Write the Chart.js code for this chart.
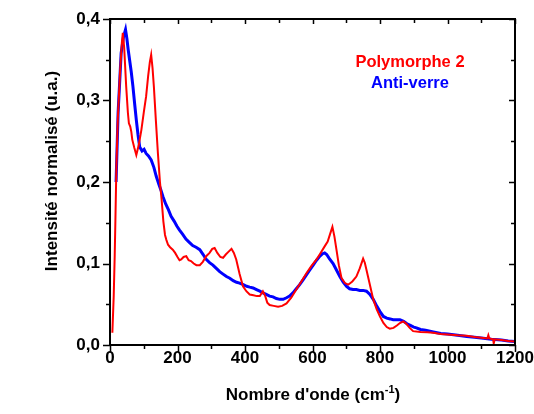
<!DOCTYPE html>
<html>
<head>
<meta charset="utf-8">
<script src="https://cdn.jsdelivr.net/npm/chart.js@4.4.0/dist/chart.umd.min.js"></script>
<style>
  html, body { margin: 0; padding: 0; background: #fff; }
  #wrap { width: 534px; height: 414px; }
</style>
</head>
<body>
<div id="wrap"><canvas id="spectre" width="534" height="414"></canvas></div>
<script>
// Spectres Raman basse fréquence : polymorphe 2 et anti-verre

const seriesNames = ["Polymorphe 2", "Anti-verre"];

const redX = [7, 11, 14, 16, 19, 23, 30, 35, 38, 42, 48, 53, 56, 60, 63, 66, 72, 78, 85, 93,
  100, 107, 113, 118, 122, 126, 130, 136, 142, 148, 153, 158, 163, 167, 172, 178, 186, 193, 200, 206,
  211, 218, 226, 233, 240, 248, 256, 266, 275, 285, 295, 303, 310, 318, 327, 335, 343, 350, 360, 367,
  374, 384, 394, 404, 414, 425, 435, 444, 453, 460, 466, 473, 485, 498, 510, 523, 537, 552, 567, 582,
  597, 612, 624, 636, 645, 652, 659, 665, 671, 678, 686, 696, 706, 718, 730, 740, 750, 755, 760, 770,
  780, 790, 800, 810, 820, 829, 840, 850, 859, 869, 878, 888, 898, 920, 940, 957, 980, 1000, 1030, 1057,
  1080, 1100, 1118, 1121, 1124, 1135, 1137, 1140, 1160, 1180, 1200];
const redY = [0.015, 0.06, 0.11, 0.153, 0.22, 0.276, 0.337, 0.37, 0.383, 0.365, 0.317, 0.285, 0.272, 0.268, 0.262, 0.252, 0.242, 0.233, 0.245, 0.264,
  0.285, 0.305, 0.33, 0.347, 0.356, 0.34, 0.317, 0.275, 0.235, 0.2, 0.178, 0.152, 0.135, 0.129, 0.123, 0.12, 0.117, 0.113, 0.108, 0.104,
  0.105, 0.108, 0.109, 0.104, 0.103, 0.1, 0.098, 0.098, 0.102, 0.109, 0.113, 0.118, 0.119, 0.113, 0.108, 0.107, 0.111, 0.114, 0.118, 0.113,
  0.105, 0.087, 0.072, 0.066, 0.062, 0.061, 0.06, 0.06, 0.066, 0.06, 0.052, 0.049, 0.048, 0.047, 0.048, 0.051, 0.058, 0.068, 0.078, 0.088,
  0.097, 0.105, 0.113, 0.121, 0.127, 0.136, 0.145, 0.133, 0.117, 0.098, 0.082, 0.076, 0.074, 0.078, 0.084, 0.094, 0.106, 0.101, 0.092, 0.074,
  0.056, 0.044, 0.035, 0.027, 0.022, 0.02, 0.021, 0.024, 0.027, 0.029, 0.026, 0.021, 0.017, 0.016, 0.0155, 0.015, 0.0135, 0.013, 0.012, 0.0114,
  0.0098, 0.009, 0.008, 0.012, 0.008, 0.007, 0.002, 0.007, 0.006, 0.005, 0.0044];

const blueX = [18, 24, 28, 33, 40, 46, 50, 54, 58, 63, 68, 73, 78, 83, 88, 95, 101, 107, 114, 122,
  130, 137, 145, 151, 157, 165, 173, 181, 190, 198, 206, 215, 225, 235, 245, 255, 266, 276, 285, 295,
  305, 315, 325, 335, 345, 355, 365, 375, 384, 395, 405, 414, 424, 434, 444, 453, 463, 473, 483, 493,
  503, 513, 523, 532, 542, 552, 562, 572, 582, 592, 602, 612, 622, 630, 636, 642, 650, 661, 671, 681,
  691, 701, 710, 720, 730, 740, 750, 760, 770, 780, 790, 800, 810, 820, 830, 839, 850, 859, 870, 880,
  890, 900, 908, 920, 935, 958, 980, 1000, 1030, 1057, 1080, 1100, 1130, 1160, 1180, 1200];
const blueY = [0.2, 0.285, 0.317, 0.358, 0.378, 0.387, 0.376, 0.362, 0.35, 0.335, 0.317, 0.296, 0.276, 0.258, 0.243, 0.238, 0.24, 0.235, 0.232, 0.227,
  0.218, 0.207, 0.197, 0.19, 0.182, 0.173, 0.166, 0.158, 0.152, 0.146, 0.141, 0.136, 0.13, 0.126, 0.122, 0.12, 0.117, 0.111, 0.105, 0.101,
  0.098, 0.094, 0.09, 0.087, 0.084, 0.082, 0.079, 0.077, 0.076, 0.074, 0.072, 0.071, 0.07, 0.068, 0.066, 0.064, 0.062, 0.06, 0.059, 0.057,
  0.056, 0.056, 0.058, 0.06, 0.064, 0.069, 0.074, 0.08, 0.086, 0.092, 0.098, 0.104, 0.109, 0.112, 0.113, 0.111, 0.106, 0.1, 0.092, 0.084,
  0.077, 0.072, 0.069, 0.068, 0.068, 0.067, 0.067, 0.066, 0.062, 0.056, 0.048, 0.041, 0.035, 0.033, 0.032, 0.031, 0.031, 0.031, 0.029, 0.026,
  0.024, 0.022, 0.021, 0.019, 0.018, 0.016, 0.014, 0.0135, 0.012, 0.0105, 0.0095, 0.0085, 0.007, 0.006, 0.005, 0.0044];

const xTickLabels = ["0", "200", "400", "600", "800", "1000", "1200"];
const yTickLabels = ["0,0", "0,1", "0,2", "0,3", "0,4"];

const FONT = '"Liberation Sans", Arial, sans-serif';

function toPoints(xs, ys) {
  return xs.map(function (x, i) { return { x: x, y: ys[i] }; });
}

// cadre, graduations (majeures + mineures), titres des axes et légende
const framePlugin = {
  id: "frame",
  afterDraw: function (chart) {
    const ctx = chart.ctx;
    const a = chart.chartArea;
    const xs = chart.scales.x;
    const ys = chart.scales.y;
    ctx.save();
    ctx.strokeStyle = "#000";
    ctx.lineWidth = 2;
    ctx.strokeRect(a.left, a.top, a.right - a.left, a.bottom - a.top);

    ctx.lineWidth = 1.5;
    ctx.beginPath();
    for (let v = 0; v <= 1200; v += 100) {
      const px = Math.round(xs.getPixelForValue(v)) + 0.5;
      const major = v % 200 === 0;
      ctx.moveTo(px, a.bottom);
      ctx.lineTo(px, a.bottom + (major ? 7 : 4));
      ctx.moveTo(px, a.top);
      ctx.lineTo(px, a.top + (major ? 5 : 4));
    }
    for (let i = 0; i <= 8; i++) {
      const v = i * 0.05;
      const py = Math.round(ys.getPixelForValue(v)) + 0.5;
      const major = i % 2 === 0;
      ctx.moveTo(a.left, py);
      ctx.lineTo(a.left - (major ? 7 : 4), py);
      ctx.moveTo(a.right, py);
      ctx.lineTo(a.right - (major ? 6 : 4), py);
    }
    ctx.stroke();

    // titre axe x avec exposant
    ctx.fillStyle = "#000";
    ctx.textBaseline = "alphabetic";
    ctx.textAlign = "left";
    const big = "bold 17px " + FONT;
    const small = "bold 11px " + FONT;
    const t1 = "Nombre d'onde (cm";
    const t2 = "-1";
    const t3 = ")";
    ctx.font = big;
    const w1 = ctx.measureText(t1).width;
    const w3 = ctx.measureText(t3).width;
    ctx.font = small;
    const w2 = ctx.measureText(t2).width;
    const total = w1 + w2 + w3;
    let cx = 313 - total / 2;
    const by = 400;
    ctx.font = big;
    ctx.fillText(t1, cx, by);
    ctx.font = small;
    ctx.fillText(t2, cx + w1, by - 7);
    ctx.font = big;
    ctx.fillText(t3, cx + w1 + w2, by);

    // titre axe y
    ctx.save();
    ctx.translate(57, 171);
    ctx.rotate(-Math.PI / 2);
    ctx.textAlign = "center";
    ctx.font = big;
    ctx.fillText("Intensité normalisé (u.a.)", 0, 0);
    ctx.restore();

    // légende en texte coloré
    ctx.textAlign = "center";
    ctx.font = "bold 16.5px " + FONT;
    ctx.fillStyle = "#ff0000";
    ctx.fillText(seriesNames[0], 410, 67);
    ctx.fillStyle = "#0000ff";
    ctx.fillText(seriesNames[1], 410, 88);
    ctx.restore();
  }
};

const ctx = document.getElementById("spectre").getContext("2d");
new Chart(ctx, {
  type: "scatter",
  data: {
    datasets: [
      {
        label: seriesNames[0],
        data: toPoints(redX, redY),
        showLine: true,
        borderColor: "#ff0000",
        borderWidth: 2,
        pointRadius: 0,
        tension: 0
      },
      {
        label: seriesNames[1],
        data: toPoints(blueX, blueY),
        showLine: true,
        borderColor: "#0000ff",
        borderWidth: 3,
        pointRadius: 0,
        tension: 0
      }
    ]
  },
  options: {
    responsive: false,
    animation: false,
    layout: { padding: { top: 19, right: 19, left: 0, bottom: 0 } },
    plugins: {
      legend: { display: false },
      tooltip: { enabled: false }
    },
    scales: {
      x: {
        type: "linear",
        min: 0,
        max: 1200,
        grid: { display: false, drawTicks: false },
        border: { display: false },
        ticks: {
          stepSize: 200,
          padding: 3,
          maxRotation: 0,
          color: "#000",
          font: { family: FONT, size: 17, weight: "bold" },
          callback: function (v, i) { return xTickLabels[i]; }
        },
        afterFit: function (scale) {
          scale.height = 69;
          scale.paddingLeft = 0;
          scale.paddingRight = 0;
        }
      },
      y: {
        type: "linear",
        min: 0,
        max: 0.4,
        grid: { display: false, drawTicks: false },
        border: { display: false },
        ticks: {
          stepSize: 0.1,
          padding: 10,
          color: "#000",
          font: { family: FONT, size: 17, weight: "bold" },
          callback: function (v, i) { return yTickLabels[i]; }
        },
        afterFit: function (scale) {
          scale.width = 110;
          scale.paddingTop = 0;
          scale.paddingBottom = 0;
        }
      }
    }
  },
  plugins: [framePlugin]
});
</script>
</body>
</html>
